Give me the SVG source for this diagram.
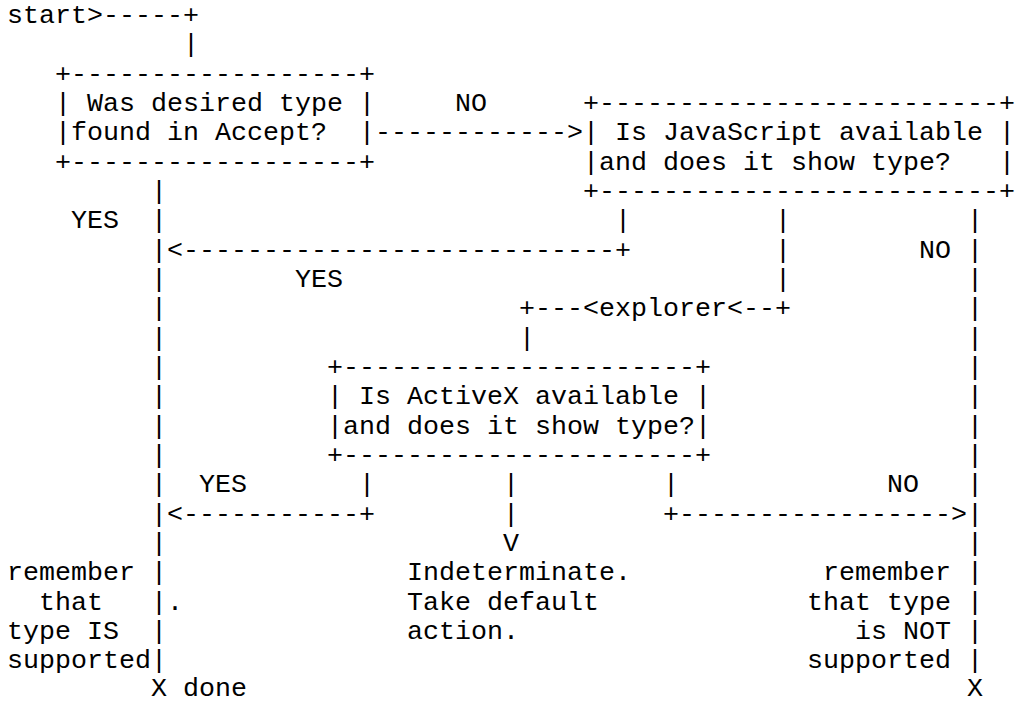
<svg xmlns="http://www.w3.org/2000/svg" width="1015" height="702" viewBox="0 0 1015 702" xml:space="preserve">
<style>
text { font-family: "Liberation Mono", "Courier New", monospace; font-size: 26.667px; fill: #000; white-space: pre; }
</style>
<rect x="0" y="0" width="1015" height="702" fill="#fff"/>
<g id="connectors">
<text x="87" y="23">&gt;-----+</text>
<text x="183" y="52.33">|</text>
<text x="375" y="140.33">------------&gt;</text>
<text x="151" y="199">|</text>
<text x="151" y="228.33">|</text><text x="615" y="228.33">|</text><text x="775" y="228.33">|</text><text x="967" y="228.33">|</text>
<text x="151" y="257.67">|&lt;---------------------------+</text><text x="775" y="257.67">|</text><text x="967" y="257.67">|</text>
<text x="151" y="287">|</text><text x="775" y="287">|</text><text x="967" y="287">|</text>
<text x="151" y="316.33">|</text><text x="519" y="316.33">+---&lt;explorer&lt;--+</text><text x="967" y="316.33">|</text>
<text x="151" y="345.67">|</text><text x="519" y="345.67">|</text><text x="967" y="345.67">|</text>
<text x="151" y="375">|</text><text x="967" y="375">|</text>
<text x="151" y="404.33">|</text><text x="967" y="404.33">|</text>
<text x="151" y="433.67">|</text><text x="967" y="433.67">|</text>
<text x="151" y="463">|</text><text x="967" y="463">|</text>
<text x="151" y="492.33">|</text><text x="359" y="492.33">|</text><text x="503" y="492.33">|</text><text x="663" y="492.33">|</text><text x="967" y="492.33">|</text>
<text x="151" y="521.67">|&lt;-----------+</text><text x="503" y="521.67">|</text><text x="663" y="521.67">+-----------------&gt;|</text>
<text x="151" y="551">|</text><text x="503" y="551">V</text><text x="967" y="551">|</text>
<text x="151" y="580.33">|</text><text x="967" y="580.33">|</text>
<text x="151" y="609.67">|.</text><text x="967" y="609.67">|</text>
<text x="151" y="639">|</text><text x="967" y="639">|</text>
<text x="151" y="668.33">|</text><text x="967" y="668.33">|</text>
</g>
<g id="labels">
<text x="455" y="111">NO</text>
<text x="71" y="228.33">YES</text>
<text x="919" y="257.67">NO</text>
<text x="295" y="287">YES</text>
<text x="199" y="492.33">YES</text>
<text x="887" y="492.33">NO</text>
</g>
<g id="start">
<text x="7" y="23">start</text>
</g>
<g id="accept-box">
<text x="55" y="81.67">+------------------+</text>
<text x="55" y="111">| Was desired type |</text>
<text x="55" y="140.33">|found in Accept?  |</text>
<text x="55" y="169.67">+------------------+</text>
</g>
<g id="javascript-box">
<text x="583" y="111">+-------------------------+</text>
<text x="583" y="140.33">| Is JavaScript available |</text>
<text x="583" y="169.67">|and does it show type?   |</text>
<text x="583" y="199">+-------------------------+</text>
</g>
<g id="activex-box">
<text x="327" y="375">+----------------------+</text>
<text x="327" y="404.33">| Is ActiveX available |</text>
<text x="327" y="433.67">|and does it show type?|</text>
<text x="327" y="463">+----------------------+</text>
</g>
<g id="supported">
<text x="7" y="580.33">remember</text>
<text x="39" y="609.67">that</text>
<text x="7" y="639">type IS</text>
<text x="7" y="668.33">supported</text>
</g>
<g id="done">
<text x="151" y="695.5">X done</text>
</g>
<g id="indeterminate">
<text x="407" y="580.33">Indeterminate.</text>
<text x="407" y="609.67">Take default</text>
<text x="407" y="639">action.</text>
</g>
<g id="not-supported">
<text x="823" y="580.33">remember</text>
<text x="807" y="609.67">that type</text>
<text x="855" y="639">is NOT</text>
<text x="807" y="668.33">supported</text>
<text x="967" y="695.5">X</text>
</g>
</svg>
